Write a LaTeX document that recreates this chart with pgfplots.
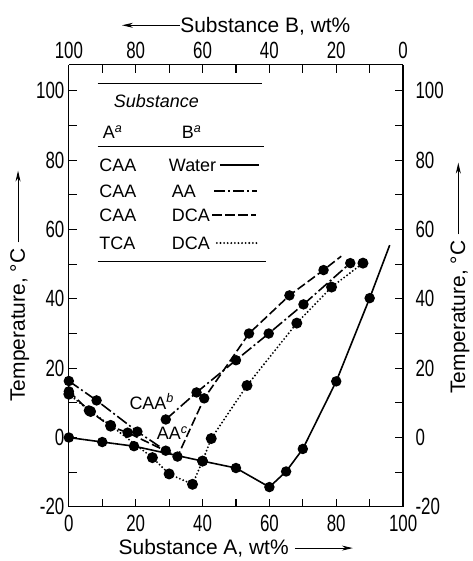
\documentclass[border=0pt]{standalone}
\usepackage{fontspec}
\setmainfont{Liberation Sans}
\newfontfamily\tickfont{Liberation Sans}[FakeStretch=0.72]
\usepackage{pgfplots}
\pgfplotsset{compat=1.18}
\usetikzlibrary{arrows.meta}

% arrows that sit inside the axis labels
\newcommand\rarr[1]{\tikz[baseline=-0.33em]\draw[line width=0.9pt,-{Stealth[length=11pt,width=5pt]}] (0,0)--(#1,0);}
\newcommand\larr[1]{\tikz[baseline=-0.33em]\draw[line width=0.9pt,{Stealth[length=11pt,width=5pt]}-] (0,0)--(#1,0);}

\pgfplotsset{
  frame/.style={
    scale only axis, width=335pt, height=443pt,
    xmin=0, xmax=100, ymin=-20, ymax=107.5,
    xtick={0,20,...,100}, minor xtick={10,30,...,90},
    ytick={-20,0,...,100}, minor ytick={-10,10,...,90},
    tick align=inside, major tick length=8pt, minor tick length=8pt,
    axis line style={line width=1.2pt}, tick style={line width=1.1pt, black},
    /pgf/number format/assume math mode=true,
    ticklabel style={font=\tickfont\fontsize{23.5}{28}\selectfont},
    label style={font=\fontsize{21}{25}\selectfont},
  },
}

\begin{document}
\begin{tikzpicture}
\begin{axis}[frame, name=main,
    axis x line*=bottom, axis y line*=left,
    xticklabel style={yshift=-5pt},
    yticklabel style={xshift=-1pt},
    xlabel={Substance A, wt\% \rarr{58pt}},
    xlabel style={yshift=-1pt},
    ylabel={Temperature, °C \rarr{72pt}},
    every axis plot/.append style={line width=1.6pt, mark=*, mark size=4.4pt, mark options={solid, fill=black}},
]
% CAA - Water
\addplot[mark indices={1,...,10}] coordinates {(0,0)(10,-1.3)(19.5,-2.5)(40,-6.8)(50,-8.8)(60,-14.3)(65,-9.8)(70,-3.3)(80,16.2)(90,40.2)(96,55.5)};
% CAA - AA, AA-rich branch
\addplot[dash pattern=on 12pt off 3pt on 2pt off 3pt] coordinates {(0,16.3)(8.3,10.7)(20.5,1.7)(29,-3.8)};
% CAA - AA, CAA-rich branch
\addplot[dash pattern=on 12pt off 3pt on 2pt off 3pt] coordinates {(29,5.2)(38.2,13)(50,22.3)(59.8,30)(70.2,38.4)(84.2,50.3)};
% CAA - DCA
\addplot[dash pattern=on 9pt off 3.5pt, mark indices={1,...,9}] coordinates {(0,13.3)(6,7.8)(12.5,3.2)(17.6,1.4)(32.5,-5.5)(40.5,11.3)(53.9,30)(66,41)(76.2,48.3)(81.5,52.3)};
% TCA - DCA
\addplot[line cap=round, line width=2.1pt, dash pattern=on 0pt off 3.6pt] coordinates {(0,12.5)(6.5,7.5)(12.5,3.5)(25,-5.8)(30,-10.5)(37,-13.5)(40,-6.8)(42.6,-0.3)(53.3,15)(68.2,33)(78.6,43.4)(88,50.3)};

\node[anchor=east, font=\fontsize{18}{20}\selectfont] at (axis cs:32.5,10.4) {CAA\textsuperscript{\itshape b}};
\node[anchor=west, font=\fontsize{18}{20}\selectfont] at (axis cs:25.3,1.2) {AA\textsuperscript{\itshape c}};

% table-style key
\begin{scope}[font=\fontsize{18}{20}\selectfont]
\draw[line width=0.9pt] (axis cs:8.6,102) -- (axis cs:57.7,102);
\node at (axis cs:26.2,97) {\itshape Substance};
\node at (axis cs:13.1,88.2) {A\textsuperscript{\itshape a}};
\node at (axis cs:36.7,88.2) {B\textsuperscript{\itshape a}};
\draw[line width=0.9pt] (axis cs:8.6,84.1) -- (axis cs:58.3,84.1);
\node[anchor=west] at (axis cs:8.1,78.6) {CAA};
\node[anchor=west] at (axis cs:8.1,71.1) {CAA};
\node[anchor=west] at (axis cs:8.1,64.2) {CAA};
\node[anchor=west] at (axis cs:8.1,56.1) {TCA};
\node[anchor=west] at (axis cs:28.9,78.6) {Water};
\node[anchor=west] at (axis cs:29.8,71.1) {AA};
\node[anchor=west] at (axis cs:29.8,64.2) {DCA};
\node[anchor=west] at (axis cs:29.8,56.1) {DCA};
\draw[line width=1.7pt] (axis cs:45.2,78.6) -- (axis cs:56.8,78.6);
\draw[line width=1.7pt, dash pattern=on 11pt off 3pt on 2pt off 3pt] (axis cs:43.5,71.1) -- (axis cs:56.3,71.1);
\draw[line width=1.7pt, dash pattern=on 10pt off 3pt] (axis cs:42.9,64.2) -- (axis cs:56,64.2);
\draw[line width=2.1pt, line cap=round, dash pattern=on 0pt off 3.6pt] (axis cs:44.3,56.1) -- (axis cs:56.2,56.1);
\draw[line width=0.9pt] (axis cs:8.6,50.9) -- (axis cs:58.9,50.9);
\end{scope}
\end{axis}

\begin{axis}[frame, x dir=reverse,
    axis x line*=top, axis y line*=right,
    xticklabel style={yshift=3pt},
    yticklabel style={xshift=9pt},
    xlabel={\larr{58pt}Substance B, wt\%},
    ylabel={Temperature, °C \rarr{72pt}},
    ylabel style={xshift=8pt},
]
\addplot[draw=none] coordinates {(0,0)};
\end{axis}

\path ([xshift=-69pt,yshift=-53pt]main.south west) rectangle ([xshift=67pt,yshift=65pt]main.north east);
\end{tikzpicture}
\end{document}
